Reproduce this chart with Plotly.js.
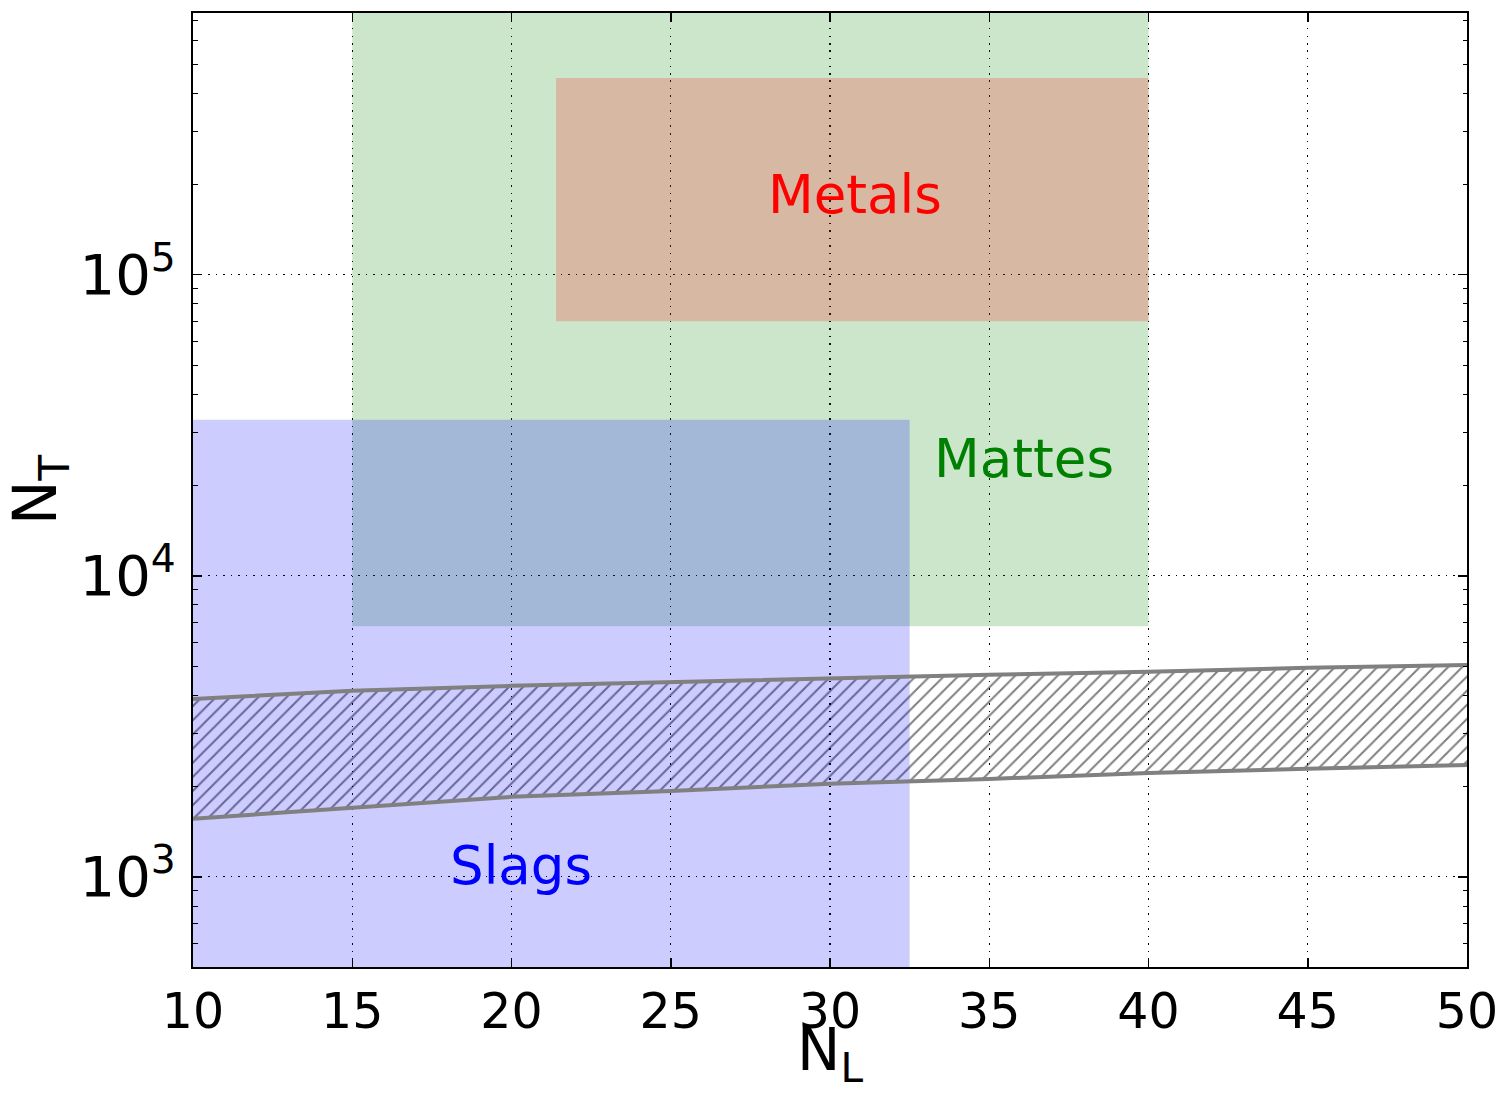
<!DOCTYPE html>
<html>
<head>
<meta charset="utf-8">
<script src="https://cdn.plot.ly/plotly-3.0.1.min.js"></script>
<style>html,body{margin:0;padding:0;background:#fff;}#chart{width:1504px;height:1094px;}</style>
</head>
<body>
<div id="chart"></div>
<script>
// Data
const bandX = [10, 15, 20, 25, 30, 35, 40, 45, 50];
const bandUpper = [3900, 4150, 4310, 4440, 4550, 4690, 4800, 4950, 5060];
const bandLower = [1560, 1695, 1845, 1930, 2040, 2115, 2215, 2285, 2355];

const slagsX = [10, 32.5];
const slagsY = [400, 33000];
const mattesX = [15, 40];
const mattesY = [6800, 2000000];
const metalsX = [21.4, 40];
const metalsY = [70000, 450000];

const labels = ["Metals", "Mattes", "Slags"];
const labelX = [30.8, 36.1, 20.3];
const labelY = [185000, 24500, 1090];
const labelColors = ["#ff0000", "#008000", "#0000ff"];

const yTickVals = [1000, 10000, 100000];
const yTickText = ["10<sup>3</sup>", "10<sup>4</sup>", "10<sup>5</sup>"];
const xTickVals = [10, 15, 20, 25, 30, 35, 40, 45, 50];

const xTitle = "N<sub>L</sub>";
const yTitle = "N<sub>T</sub>";

function rect(xs, ys, color) {
  return {
    x: [xs[0], xs[1], xs[1], xs[0], xs[0]],
    y: [ys[0], ys[0], ys[1], ys[1], ys[0]],
    mode: "lines", fill: "toself", fillcolor: color,
    line: {width: 0, color: "rgba(0,0,0,0)"},
    hoverinfo: "skip", showlegend: false
  };
}

// minor tick positions on the log axis (2..9 times each decade)
const minorVals = [];
[100, 1000, 10000, 100000].forEach(d => { for (let k = 2; k <= 9; k++) minorVals.push(k * d); });

const traces = [
  rect(mattesX, mattesY, "rgba(0,128,0,0.2)"),
  rect(metalsX, metalsY, "rgba(255,0,0,0.2)"),
  {
    x: bandX.concat(bandX.slice().reverse()),
    y: bandLower.concat(bandUpper.slice().reverse()),
    mode: "lines", fill: "toself", fillcolor: "rgba(0,0,0,0)",
    fillpattern: {shape: "/", size: 10, solidity: 0.2, fgcolor: "#000000", bgcolor: "rgba(0,0,0,0)", fillmode: "overlay"},
    line: {width: 0, color: "rgba(0,0,0,0)"},
    hoverinfo: "skip", showlegend: false
  },
  rect(slagsX, slagsY, "rgba(0,0,255,0.2)"),
  {x: bandX, y: bandUpper, mode: "lines", line: {color: "#808080", width: 4}, showlegend: false},
  {x: bandX, y: bandLower, mode: "lines", line: {color: "#808080", width: 4}, showlegend: false}
];

const annotations = labels.map((t, i) => ({
  x: labelX[i], y: Math.log10(labelY[i]), xref: "x", yref: "y",
  text: t, showarrow: false, font: {family: "DejaVu Sans", size: 53, color: labelColors[i]},
  xanchor: "center", yanchor: "middle"
}));
annotations.push({
  x: 0.5, y: 0, xref: "paper", yref: "paper", text: xTitle, showarrow: false,
  font: {family: "DejaVu Sans", size: 58, color: "#000"},
  xanchor: "center", yanchor: "bottom", yshift: -127
});

const layout = {
  width: 1504, height: 1094,
  margin: {l: 193, r: 37, t: 13, b: 127},
  paper_bgcolor: "#ffffff", plot_bgcolor: "#ffffff",
  font: {family: "DejaVu Sans", color: "#000000", size: 48},
  showlegend: false,
  xaxis: {
    range: [10, 50], tickvals: xTickVals, ticktext: xTickVals.map(String),
    ticks: "inside", ticklen: 9, tickwidth: 1.5, tickcolor: "#000",
    showline: true, linecolor: "#000", linewidth: 2, mirror: "allticks",
    showgrid: true, gridcolor: "#000", gridwidth: 1.2, griddash: "1.5px,6px",
    zeroline: false, tickfont: {size: 49}
  },
  yaxis: {
    type: "log", range: [Math.log10(502), Math.log10(740000)],
    tickvals: yTickVals, ticktext: yTickText,
    ticks: "inside", ticklen: 9, tickwidth: 1.5, tickcolor: "#000",
    minor: {tickvals: minorVals, ticks: "inside", ticklen: 4.5, tickwidth: 1, tickcolor: "#000", showgrid: false},
    showline: true, linecolor: "#000", linewidth: 2, mirror: "allticks",
    showgrid: true, gridcolor: "#000", gridwidth: 1.2, griddash: "1.5px,6px",
    zeroline: false, tickfont: {size: 56}, ticklabelstandoff: 4,
    title: {text: yTitle, font: {size: 60}, standoff: 18}
  },
  annotations: annotations
};

Plotly.newPlot("chart", traces, layout, {displayModeBar: false, staticPlot: true});
</script>
</body>
</html>
